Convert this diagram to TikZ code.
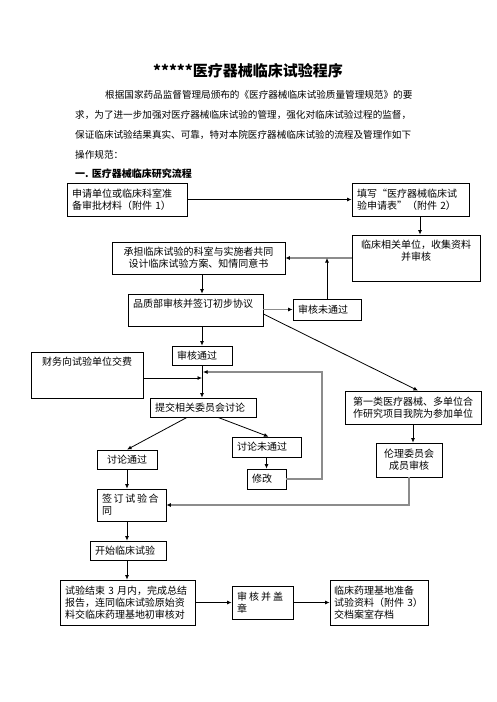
\documentclass[tikz,border=0pt]{standalone}
\usepackage{fontspec}
\setmainfont{Noto Sans CJK SC}
\usetikzlibrary{arrows.meta,positioning,calc}

\newcommand{\toptext}[3]{\parbox[c][#1][t]{#2}{#3}}

\begin{document}
\begin{tikzpicture}[
    x=1pt, y=-1pt,
    box/.style={rectangle, draw, line width=0.8pt, inner xsep=5pt, inner ysep=3pt, align=left, font=\fontsize{10}{12}\selectfont},
    link/.style={-{Latex[length=4.5pt,width=4pt]}, line width=0.8pt},
    backline/.style={-{Latex[length=4.5pt,width=4pt,color=black]}, draw=black!45, line width=1.4pt}
]
\useasboundingbox (0,0) rectangle (496,702);

\node[font=\fontsize{15}{18}\selectfont\bfseries] (title) at (248,71) {*****医疗器械临床试验程序};
\node[anchor=north west, inner sep=0pt, align=left, font=\fontsize{9.6}{20}\selectfont] (intro) at (75,90) {\hspace*{30pt}根据国家药品监督管理局颁布的《医疗器械临床试验质量管理规范》的要\\求，为了进一步加强对医疗器械临床试验的管理，强化对临床试验过程的监督，\\保证临床试验结果真实、可靠，特对本院医疗器械临床试验的流程及管理作如下\\操作规范：};
\node[anchor=west, inner sep=0pt, font=\fontsize{10}{12}\selectfont\bfseries] (heading) at (75,174) {一. 医疗器械临床研究流程};

\node[box, text width=110pt, minimum height=33pt] (apply) at (127,199.5) {申请单位或临床科室准\\备审批材料（附件 1）};
\node[box, text width=107pt, minimum height=33pt] (form) at (410.5,199.5) {填写“医疗器械临床试\\验申请表”（附件 2）};
\node[box, inner ysep=5pt] (collect) at (416,258) {\toptext{36pt}{118pt}{\centering 临床相关单位，收集资料\\并审核}};
\node[box, text width=163pt, align=center, minimum height=32pt] (design) at (198.5,258) {承担临床试验的科室与实施者共同\\设计临床试验方案、知情同意书};
\node[box, inner ysep=5pt] (quality) at (195.5,310) {\toptext{22pt}{125pt}{品质部审核并签订初步协议}};
\node[box, text width=58pt, minimum height=21pt] (reject) at (327,309.5) {审核未通过};
\node[box, text width=50pt, minimum height=19pt] (pass) at (202,355.5) {审核通过};
\node[box, inner ysep=5pt] (fee) at (87,375) {\toptext{36pt}{102pt}{\centering 财务向试验单位交费}};
\node[box, text width=96pt, minimum height=19pt] (submit) at (203,407.5) {提交相关委员会讨论};
\node[box, text width=50pt, align=center, minimum height=19pt] (agreed) at (127,459.5) {讨论通过};
\node[box, text width=59pt, minimum height=20pt] (refused) at (266.5,447) {讨论未通过};
\node[box, text width=29pt, minimum height=20pt] (revise) at (266.5,479) {修改};
\node[box, text width=126pt, align=center, minimum height=33pt] (category) at (413,407.5) {第一类医疗器械、多单位合\\作研究项目我院为参加单位};
\node[box, text width=56pt, align=center, minimum height=34pt] (ethics) at (409,460) {伦理委员会\\成员审核};
\node[box, text width=59pt, minimum height=32pt] (contract) at (131.5,505) {签\,订\,试\,验\,合\\同};
\node[box, text width=66pt, minimum height=19pt] (start) at (128,550.5) {开始临床试验};
\node[box, text width=125pt, minimum height=45pt] (report) at (127.5,602.5) {试验结束 3 月内，完成总结\\报告，连同临床试验原始资\\料交临床药理基地初审核对};
\node[box, text width=51pt, minimum height=33pt] (stamp) at (262.5,602.5) {审\hspace{2pt}核\hspace{2pt}并\hspace{2pt}盖\\章};
\node[box, inner xsep=4pt, text width=90pt, minimum height=45pt] (archive) at (379,602.5) {临床药理基地准备\\试验资料（附件 3）\\交档案室存档};

\coordinate (formdrop) at ([xshift=9.5pt]form.south);
\coordinate (feein) at (202,378);
\coordinate (loopturn) at (322,372);
\coordinate (loopin) at (203,372);

\draw[link] (apply) -- (form);
\draw[link] (formdrop) -- (formdrop |- collect.north);
\draw[backline] (collect.west) -- (design.east);
\draw[link] (design.south -| pass) -- (pass |- quality.north);
\draw[backline] (quality.east |- reject.west) -- (reject.west);
\draw[link] (reject.north) -- (reject.north |- collect.west);
\draw[link] ([yshift=-4pt]quality.east) -- ([xshift=5pt]category.north);
\draw[link] (quality.south -| pass) -- (pass.north);
\draw[link] (pass.south) -- (pass.south |- submit.north);
\draw[link] (fee.east |- feein) -- (feein);
\draw[backline] (revise.east) -| (loopturn) -- (loopin);
\draw[link] ([xshift=-16pt]submit.south) -- (agreed.north);
\draw[link] ([xshift=15pt]submit.south) -- ([xshift=2pt]refused.north);
\draw[link] (refused.south) -- (revise.north);
\draw[link] (category.south) -- (category.south |- ethics.north);
\draw[backline] (ethics.south) |- (contract.east);
\draw[link] (agreed.south) -- (agreed.south |- contract.north);
\draw[link] (agreed.south |- contract.south) -- (agreed.south |- start.north);
\draw[link] (agreed.south |- start.south) -- (agreed.south |- report.north);
\draw[link] (report) -- (stamp);
\draw[link] (stamp) -- (archive);

\end{tikzpicture}
\end{document}
